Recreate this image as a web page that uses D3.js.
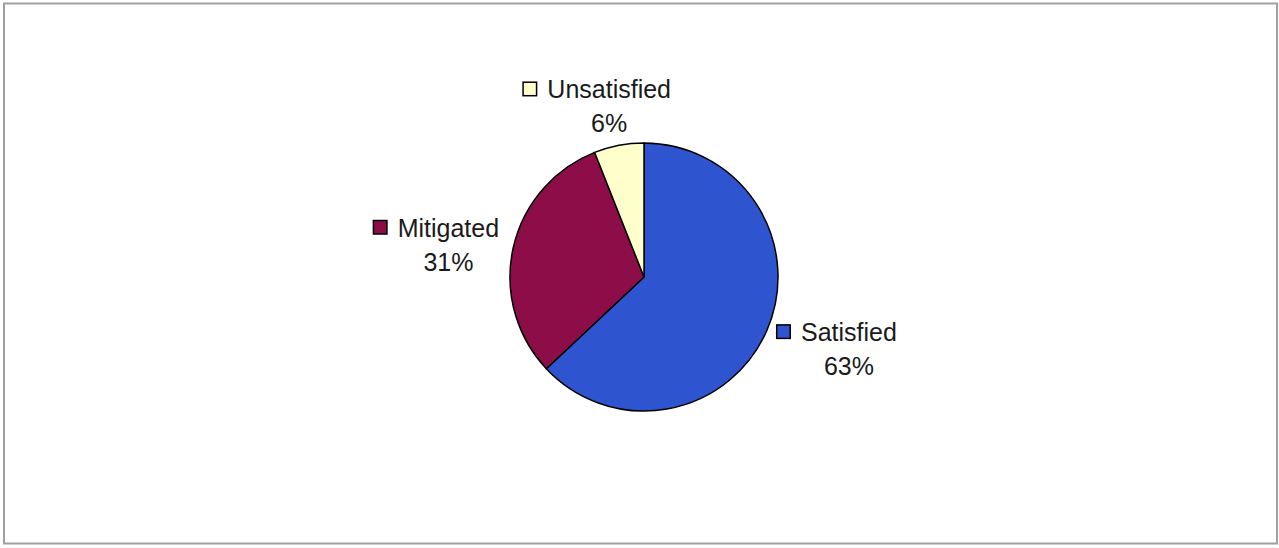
<!DOCTYPE html>
<html>
<head>
<meta charset="utf-8">
<script src="https://cdn.jsdelivr.net/npm/d3@7"></script>
<style>
  html, body { margin: 0; padding: 0; background: #fff; }
  svg { display: block; }
  text { font-family: "Liberation Sans", Arial, sans-serif; fill: #1a1a1a; }
</style>
</head>
<body>
<svg id="chart" width="1279" height="548"></svg>
<script>
const categories = ["Satisfied", "Mitigated", "Unsatisfied"];
const values = [63, 31, 6];
const colors = ["#2f54cf", "#8c0d48", "#ffffcc"];

const width = 1279, height = 548;
const cx = 644, cy = 277, radius = 134;

const svg = d3.select("#chart");

svg.append("rect")
  .attr("x", 4).attr("y", 3.5)
  .attr("width", 1273).attr("height", 540)
  .attr("fill", "none")
  .attr("stroke", "#a0a0a0")
  .attr("stroke-width", 2);

const data = categories.map((c, i) => ({ name: c, value: values[i], color: colors[i] }));

const pie = d3.pie().sort(null).value(d => d.value);
const arcs = pie(data);

const arc = d3.arc().innerRadius(0).outerRadius(radius);
const labelArc = d3.arc().innerRadius(150).outerRadius(150);

const g = svg.append("g").attr("transform", `translate(${cx},${cy})`);

g.selectAll("path.slice")
  .data(arcs)
  .join("path")
  .attr("class", "slice")
  .attr("d", arc)
  .attr("fill", d => d.data.color)
  .attr("stroke", "#000")
  .attr("stroke-width", 1.5)
  .attr("stroke-linejoin", "round");

const fontSize = 25;
const marker = 15, gap = 10, lineGap = 34;
const total = d3.sum(values);

arcs.forEach(d => {
  const lg = g.append("g");
  const name = lg.append("text")
    .attr("x", marker + gap).attr("y", 0)
    .attr("font-size", fontSize)
    .text(d.data.name);
  const nw = name.node().getComputedTextLength();
  lg.append("rect")
    .attr("x", 0.75).attr("y", -marker - 1)
    .attr("width", marker - 1.5).attr("height", marker - 1.5)
    .attr("fill", d.data.color)
    .attr("stroke", "#000")
    .attr("stroke-width", 1.5);
  lg.append("text")
    .attr("x", marker + gap + nw / 2).attr("y", lineGap)
    .attr("text-anchor", "middle")
    .attr("font-size", fontSize)
    .text(Math.round(d.data.value / total * 100) + "%");
  const bb = lg.node().getBBox();
  const [px, py] = labelArc.centroid(d);
  const mid = (d.startAngle + d.endAngle) / 2;
  const ux = Math.sin(mid), uy = -Math.cos(mid);
  const ccx = px + ux * bb.width / 2 - (uy < -0.9 ? 5 : 0);
  const ccy = py + uy * bb.height / 2 + (uy < 0 ? 7 : 0);
  lg.attr("transform", `translate(${ccx - bb.x - bb.width / 2},${ccy - bb.y - bb.height / 2})`);
});
</script>
</body>
</html>
